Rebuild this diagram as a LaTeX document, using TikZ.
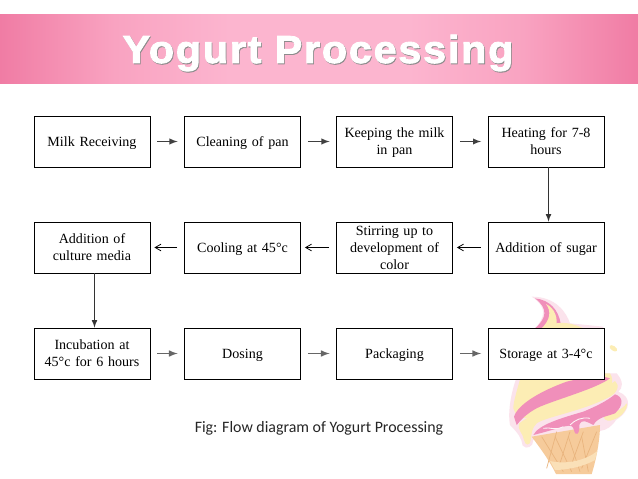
\documentclass[tikz,border=0pt]{standalone}
\usepackage{fontspec}
\setmainfont{Liberation Serif}
\newfontfamily\titlefont[LetterSpace=4.5,FakeBold=2.2,FakeStretch=1.06]{Liberation Sans Bold}
\newfontfamily\capfont{Carlito}
\usetikzlibrary{arrows}
\definecolor{bandedge}{HTML}{F07CA4}
\definecolor{bandmid}{HTML}{F9A3C1}
\definecolor{bandlight}{HTML}{FCB5CF}
\definecolor{creampink}{HTML}{F08FBA}
\definecolor{creamyellow}{HTML}{FCEDB4}
\definecolor{creamhalo}{HTML}{FBE3EC}
\definecolor{conetan}{HTML}{F6CB9B}
\definecolor{conelight}{HTML}{FAE0B8}
\definecolor{conedark}{HTML}{E9B47E}
\pgfdeclarehorizontalshading{bandshade}{100bp}{color(0bp)=(bandedge); color(25bp)=(bandedge); color(34bp)=(bandmid); color(43bp)=(bandlight); color(57bp)=(bandlight); color(66bp)=(bandmid); color(75bp)=(bandedge); color(100bp)=(bandedge)}
\tikzset{
stepbox/.style={draw=black,fill=white,line width=0.5pt,minimum width=2.32cm,minimum height=1.02cm,inner sep=1pt,text width=2.2cm,text depth=0pt,align=center,font=\fontsize{8}{9.7}\selectfont},
twolines/.style={stepbox,text depth=9.7pt},
threelines/.style={stepbox,text depth=19.4pt},
flow/.style={shorten <=0.14cm,shorten >=0.13cm},
}
\begin{document}
\begin{tikzpicture}[x=0.02cm,y=-0.02cm]
\useasboundingbox (0,0) rectangle (638,479);
\fill[white] (0,0) rectangle (638,479);
\shade[shading=bandshade] (0,15) rectangle (638,84);
\node[text=black!45,font=\fontsize{22.2}{26}\titlefont] (titleshadow) at (318.8,54) {Yogurt Processing};
\node[text=white,font=\fontsize{22.2}{26}\titlefont] (title) at (318,53) {Yogurt Processing};

\begin{scope}[shift={(470,280)},scale=1/3]
\fill[creamhalo] (185,50)..controls (260,50) and (290,100)..(300,130)--(400,140)--(400,150)--(190,150)..controls (230,110) and (230,80)..(185,50)--cycle;
\fill[creampink] (195,55)..controls (240,60) and (265,90)..(272,130)--(290,145)--(195,145)..controls (230,115) and (235,85)..(195,55)--cycle;
\fill[creamyellow] (228,72)..controls (255,85) and (265,115)..(258,145)--(215,145)..controls (240,120) and (245,95)..(228,72)--cycle;
\fill[creamyellow] (258,130)..controls (290,125) and (320,135)..(340,145)--(258,145)--cycle;
\fill[creamyellow,rotate around={-35:(430,205)}] (430,205) ellipse (13 and 7);
\end{scope}

\begin{scope}[shift={(500,375)},scale=1/3]
\fill[creamhalo] (55,-5)--(350,-5)..controls (372,20) and (368,40)..(355,50)..controls (395,65) and (395,105)..(348,135)..controls (335,155) and (320,165)..(300,168)--(100,195)..controls (100,215) and (80,225)..(68,212)..controls (65,190) and (55,175)..(30,150)..controls (22,110) and (35,40)..(55,-5)--cycle;
\fill[conetan] (95,185)--(300,150)..controls (300,190) and (290,250)..(275,297)--(168,297)..controls (150,260) and (125,225)..(95,185)--cycle;
\foreach \x in {0,1,2,3}{
\draw[conedark,line width=0.4pt] (125+40*\x,185)--(190+25*\x,290);
\draw[conedark,line width=0.4pt] (290-40*\x,170)--(245-35*\x,280);
}
\fill[conelight] (150,258)..controls (200,270) and (260,255)..(292,228)--(285,255)..controls (250,275) and (200,285)..(165,285)--cycle;
\fill[creamyellow] (65,-5)--(330,-5)..controls (345,20) and (335,45)..(300,70)..controls (200,90) and (130,115)..(90,130)..controls (60,130) and (45,120)..(40,100)..controls (40,80) and (50,50)..(65,-5)--cycle;
\fill[creampink] (42,125)..controls (55,85) and (130,45)..(200,20)..controls (260,5) and (300,0)..(330,10)..controls (290,40) and (180,70)..(120,95)..controls (75,115) and (55,145)..(50,150)--cycle;
\fill[creamyellow] (310,125)..controls (340,115) and (365,105)..(380,85)..controls (385,100) and (365,125)..(345,132)..controls (330,140) and (315,140)..(310,125)--cycle;
\fill[creampink] (100,180)..controls (115,150) and (180,130)..(250,110)..controls (310,85) and (330,70)..(345,58)..controls (370,65) and (372,90)..(345,115)..controls (320,125) and (295,125)..(280,150)..controls (260,140) and (245,130)..(238,150)..controls (240,180) and (225,185)..(222,165)..controls (215,140) and (200,155)..(100,180)--cycle;
\fill[creamyellow] (58,145)..controls (100,110) and (200,85)..(280,55)..controls (330,30) and (340,22)..(345,18)..controls (360,30) and (355,55)..(320,70)..controls (240,110) and (140,125)..(110,145)..controls (95,160) and (95,175)..(92,195)..controls (90,215) and (75,212)..(72,195)..controls (70,175) and (50,165)..(58,145)--cycle;
\draw[white!60!creamhalo,line width=0.5pt] (130,160)..controls (150,155) and (165,168)..(190,155);
\draw[white!60!creamhalo,line width=0.5pt] (210,150)..controls (225,135) and (245,125)..(270,130);
\end{scope}

\node[stepbox] (milk) at (92,141.5) {Milk Receiving};
\node[stepbox] (clean) at (242.5,141.5) {Cleaning of pan};
\node[twolines] (keep) at (394.5,141.5) {Keeping the milk\\in pan};
\node[twolines] (heat) at (546,141.5) {Heating for 7-8\\hours};
\node[stepbox] (sugar) at (546,247.5) {Addition of sugar};
\node[threelines] (stir) at (394.5,247.5) {Stirring up to\\development of\\color};
\node[stepbox] (cool) at (242.5,247.5) {Cooling at 45°c};
\node[twolines] (culture) at (92,247.5) {Addition of\\culture media};
\node[twolines] (incub) at (92,353.5) {Incubation at\\45°c for 6 hours};
\node[stepbox] (dose) at (242.5,353.5) {Dosing};
\node[stepbox] (pack) at (394.5,353.5) {Packaging};
\node[stepbox] (store) at (546,353.5) {Storage at 3-4°c};

\foreach \a/\b in {milk/clean,clean/keep,keep/heat}{
\draw[flow,-latex,line width=0.6pt,black!75] (\a)--(\b);
}
\foreach \a/\b in {sugar/stir,stir/cool,cool/culture}{
\draw[flow,shorten >=0.08cm,-angle 60,line width=0.45pt] (\a)--(\b);
}
\foreach \a/\b in {incub/dose,dose/pack,pack/store}{
\draw[flow,-latex,line width=0.7pt,black!60] (\a)--(\b);
}
\draw[line width=0.5pt,-latex,black!80] ([xshift=0.05cm]heat.south)--([xshift=0.05cm]sugar.north);
\draw[line width=0.5pt,-latex,black!80] ([xshift=0.05cm]culture.south)--([xshift=0.05cm]incub.north);

\node[font=\fontsize{9.05}{10}\capfont,text=black!85] (caption) at (319,428) {Fig: Flow diagram of Yogurt Processing};
\end{tikzpicture}
\end{document}
